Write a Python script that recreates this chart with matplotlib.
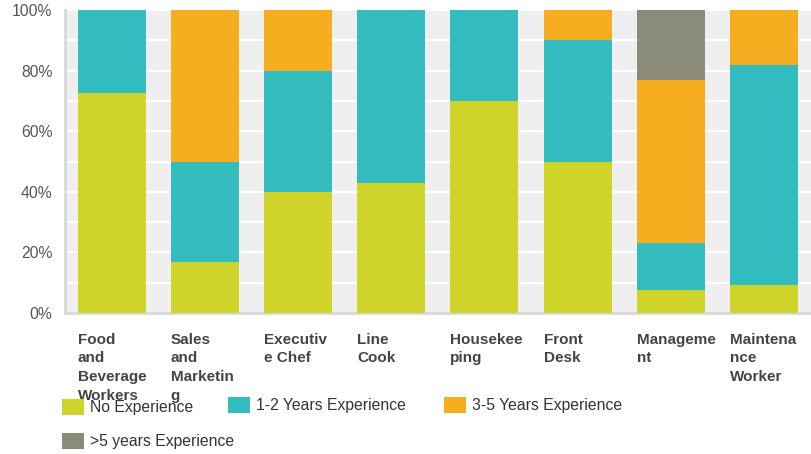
import numpy as np
import matplotlib.pyplot as plt
from matplotlib.patches import Patch

plt.rcParams['font.family'] = ['Liberation Sans', 'DejaVu Sans']

# job categories (labels wrapped like in the source chart)
categories = ['Food\nand\nBeverage\nWorkers', 'Sales\nand\nMarketin\ng', 'Executiv\ne Chef',
              'Line\nCook', 'Housekee\nping', 'Front\nDesk', 'Manageme\nnt',
              'Maintena\nnce\nWorker']

# share of respondents in %
no_exp = [72.7, 16.7, 40.0, 42.9, 70.0, 50.0, 7.7, 9.1]
yrs_1_2 = [27.3, 33.3, 40.0, 57.1, 30.0, 40.0, 15.4, 72.7]
yrs_3_5 = [0.0, 50.0, 20.0, 0.0, 0.0, 10.0, 53.8, 18.2]
yrs_5_plus = [0.0, 0.0, 0.0, 0.0, 0.0, 0.0, 23.1, 0.0]

series = [
    ('No Experience', no_exp, '#cfd42a'),
    ('1-2 Years Experience', yrs_1_2, '#33bdbf'),
    ('3-5 Years Experience', yrs_3_5, '#f6ae20'),
    ('>5 years Experience', yrs_5_plus, '#8a8b79'),
]

W, H = 811, 454
fig = plt.figure(figsize=(W / 100, H / 100), dpi=100)
ax = fig.add_axes([65 / W, 1 - 313 / H, (810.5 - 65) / W, (313 - 10) / H])
ax.set_facecolor('#efefef')

x = np.arange(len(categories))
bar_w = 0.73
bottom = np.zeros(len(categories))
for name, vals, col in series:
    vals = np.array(vals)
    ax.bar(x, vals, bar_w, bottom=bottom, color=col, zorder=3)
    bottom += vals

ax.set_xlim(-0.5, len(categories) - 0.5)
ax.set_ylim(0, 100)
ax.set_yticks(np.arange(0, 101, 20))
ax.set_yticklabels(['%d%%' % v for v in range(0, 101, 20)], fontsize=11.3, color='#555555')
ax.set_yticks(np.arange(0, 101, 10), minor=True)
ax.grid(axis='y', which='both', color='white', linewidth=1.6, zorder=1)
ax.tick_params(axis='y', which='both', length=0, pad=9)
ax.tick_params(axis='x', length=0)
ax.set_xticks([])

for s in ['top', 'right']:
    ax.spines[s].set_visible(False)
for s in ['left', 'bottom']:
    ax.spines[s].set_color('#d8d8d8')
    ax.spines[s].set_linewidth(2)

# category labels, left aligned with the bars
for i, lab in enumerate(categories):
    ax.text(i - bar_w / 2, -0.065, lab, transform=ax.get_xaxis_transform(),
            ha='left', va='top', fontsize=11, fontweight='bold', color='#444444',
            linespacing=1.42)

# legend entries placed individually
legend_pos = [(62, 407), (228, 405), (444, 405), (62, 441)]
for (name, vals, col), (px, py) in zip(series, legend_pos):
    leg = fig.legend(handles=[Patch(facecolor=col, label=name)], loc='center left',
                     bbox_to_anchor=(px / W, 1 - py / H), frameon=False,
                     fontsize=11.3, handlelength=1.4, handleheight=1.25,
                     handletextpad=0.4, borderpad=0, borderaxespad=0)
    for t in leg.get_texts():
        t.set_color('#333333')

fig.savefig('out.png', dpi=100)
